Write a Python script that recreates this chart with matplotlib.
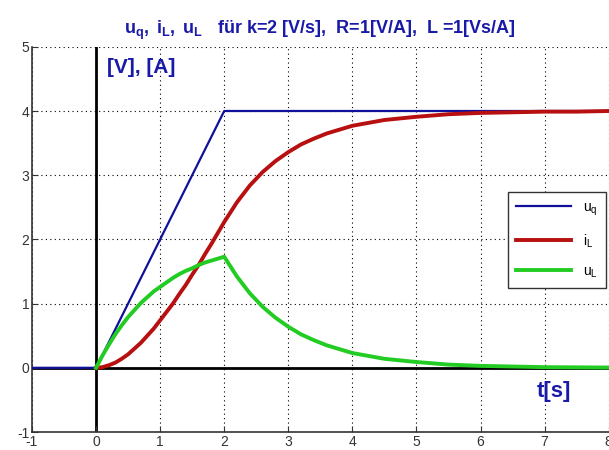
import matplotlib
matplotlib.use('Agg')
import matplotlib.pyplot as plt

plt.rcParams['font.family'] = ['Liberation Sans', 'DejaVu Sans']
plt.rcParams['mathtext.fontset'] = 'custom'
plt.rcParams['mathtext.rm'] = 'Liberation Sans'
plt.rcParams['mathtext.it'] = 'Liberation Sans'
plt.rcParams['mathtext.bf'] = 'Liberation Sans:bold'
plt.rcParams['axes.unicode_minus'] = False

# source voltage u_q (ramp to t=2, then constant)
t_uq = [-1, 0, 2, 8]
uq = [0, 0, 4, 4]

# time samples for i_L and u_L
t = [0, 0.1, 0.2, 0.3, 0.4, 0.5, 0.6, 0.7, 0.8, 0.9, 1.0,
     1.1, 1.2, 1.3, 1.4, 1.5, 1.6, 1.7, 1.8, 1.9, 2.0,
     2.2, 2.4, 2.6, 2.8, 3.0, 3.2, 3.4, 3.6, 3.8, 4.0,
     4.5, 5.0, 5.5, 6.0, 6.5, 7.0, 7.5, 8.0]
iL = [0, 0.01, 0.04, 0.08, 0.14, 0.21, 0.30, 0.39, 0.50, 0.61, 0.74,
      0.87, 1.00, 1.15, 1.29, 1.45, 1.60, 1.77, 1.93, 2.10, 2.27,
      2.58, 2.84, 3.05, 3.22, 3.36, 3.48, 3.57, 3.65, 3.71, 3.77,
      3.86, 3.91, 3.95, 3.97, 3.98, 3.99, 3.99, 4.0]
uL = [0, 0.19, 0.36, 0.52, 0.66, 0.79, 0.90, 1.01, 1.10, 1.19, 1.26,
      1.33, 1.40, 1.46, 1.51, 1.55, 1.60, 1.64, 1.67, 1.70, 1.73,
      1.42, 1.16, 0.95, 0.78, 0.64, 0.52, 0.43, 0.35, 0.29, 0.23,
      0.14, 0.09, 0.05, 0.03, 0.02, 0.01, 0.007, 0.004]

xticks = [-1, 0, 1, 2, 3, 4, 5, 6, 7, 8]
yticks = [-1, 0, 1, 2, 3, 4, 5]

fig = plt.figure(figsize=(6.09, 4.5), dpi=100)
ax = fig.add_axes([0.0525, 0.04, 0.947, 0.856])

ax.axvline(0, color='black', lw=2, zorder=1)
ax.axhline(0, color='black', lw=2, zorder=1)

ax.plot(t_uq, uq, color='#10109a', lw=1.6, label=r'$\mathregular{u_q}$', zorder=3)
ax.plot(t, iL, color='#b81010', lw=2.8, label=r'$\mathregular{i_L}$', zorder=3)
ax.plot(t, uL, color='#22cc22', lw=2.8, label=r'$\mathregular{u_L}$', zorder=4)

ax.set_xlim(-1, 8)
ax.set_ylim(-1, 5)
ax.set_xticks(xticks)
ax.set_yticks(yticks)
ax.grid(True, color='black', linestyle=(0, (1, 3)), lw=0.8)
ax.tick_params(direction='in', labelsize=10, length=4, colors='#333333')
ax.tick_params(axis='x', pad=2)
ax.tick_params(axis='y', pad=2)
for s in ['top', 'right']:
    ax.spines[s].set_visible(False)
for s in ['left', 'bottom']:
    ax.spines[s].set_color('#333333')
    ax.spines[s].set_linewidth(1.2)

ax.set_title(r'$\mathbf{u_q,\ i_L,\ u_L}$   für k=2 [V/s],  R=1[V/A],  L =1[Vs/A]',
             color='#1a1aa8', fontsize=13, fontweight='bold', pad=9)
ax.text(0.17, 4.68, '[V], [A]', color='#1a1aa8', fontsize=15, fontweight='bold',
        va='center', ha='left')
ax.text(7.15, -0.37, 't[s]', color='#1a1aa8', fontsize=16, fontweight='bold',
        va='center', ha='center')

leg = ax.legend(loc='upper right', bbox_to_anchor=(0.995, 0.623), borderaxespad=0,
                fontsize=10, handlelength=4.0, fancybox=False, framealpha=1,
                edgecolor='#333333', labelspacing=1.05, borderpad=0.6)
leg.get_frame().set_linewidth(1.0)

fig.savefig('out.png', dpi=100)
